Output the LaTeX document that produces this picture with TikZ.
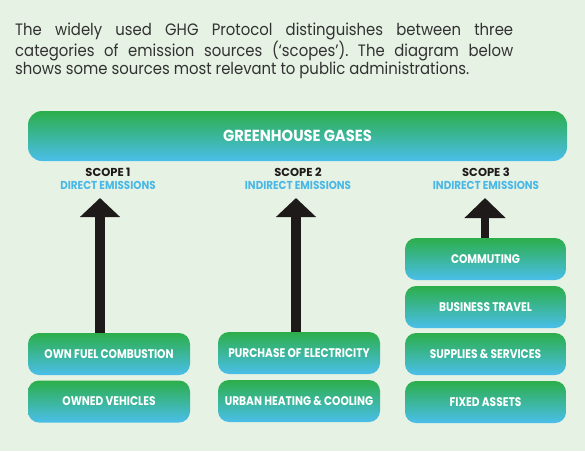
\documentclass[tikz,border=0pt]{standalone}
\usepackage{fontspec}
\setmainfont{Poppins}
\newfontfamily\labelfont[FakeStretch=0.85]{Poppins}
\newfontfamily\kindfont[FakeStretch=0.9]{Poppins}
\newfontfamily\ghgfont[FakeStretch=0.92]{Poppins}
\newfontfamily\introfont[FakeStretch=0.9]{Poppins}
\usetikzlibrary{arrows.meta}
\frenchspacing
\definecolor{bg}{RGB}{230,242,228}
\definecolor{gtop}{RGB}{44,174,74}
\definecolor{gbot}{RGB}{74,190,234}
\definecolor{lblue}{RGB}{74,184,230}
\definecolor{dark}{RGB}{30,26,26}
\definecolor{textgrey}{RGB}{50,50,50}
\tikzset{
  grad/.style={rounded corners=11pt, top color=gtop, bottom color=gbot, draw=none,
    text=white, inner sep=0pt, align=center},
  srcbox/.style={grad, minimum width=162pt, minimum height=42pt,
    font=\labelfont\fontsize{12.5}{14}\selectfont\bfseries},
  scopename/.style={font=\fontsize{11.5}{12}\selectfont\bfseries, text=dark, inner sep=0pt},
  scopekind/.style={font=\kindfont\fontsize{11.5}{12}\selectfont\bfseries, text=lblue, inner sep=0pt},
  bigarrow/.style={draw=dark, line width=10pt, -{Triangle[width=39pt,length=19pt]}},
  smallarrow/.style={draw=dark, line width=8pt, -{Triangle[width=40pt,length=20pt]}},
}
\begin{document}
\begin{tikzpicture}[x=1pt,y=-1pt]
\fill[bg] (0,0) rectangle (585,451);
\useasboundingbox (0,0) rectangle (585,451);
\node[anchor=north west, inner sep=0pt, text width=498pt, align=justify,
  font=\introfont\fontsize{16.5}{18}\selectfont, text=textgrey] (intro) at (15,23)
  {\frenchspacing The widely used GHG Protocol distinguishes between three\linebreak categories of emission sources (‘scopes’). The diagram below\linebreak shows some sources most relevant to public administrations.};
\node[grad, minimum width=539pt, minimum height=50pt, rounded corners=14pt,
  font=\ghgfont\fontsize{16}{18}\selectfont\bfseries] (ghg) at (297.5,136) {GREENHOUSE GASES};

\node[scopename] (s1) at (108,172) {SCOPE 1};
\node[scopekind] (k1) at (108,185) {DIRECT EMISSIONS};
\node[scopename] (s2) at (298,172) {SCOPE 2};
\node[scopekind] (k2) at (298,185) {INDIRECT EMISSIONS};
\node[scopename] (s3) at (486,172) {SCOPE 3};
\node[scopekind] (k3) at (486,185) {INDIRECT EMISSIONS};

\node[srcbox] (ofc) at (109,354) {OWN FUEL COMBUSTION};
\node[srcbox] (ov) at (109,401.5) {OWNED VEHICLES};
\node[srcbox] (poe) at (299,353) {PURCHASE OF ELECTRICITY};
\node[srcbox] (uhc) at (299,401) {URBAN HEATING \& COOLING};
\node[srcbox, minimum width=161pt] (com) at (485.5,259) {COMMUTING};
\node[srcbox, minimum width=161pt] (bt) at (485.5,307) {BUSINESS TRAVEL};
\node[srcbox, minimum width=161pt] (ss) at (485.5,354) {SUPPLIES \& SERVICES};
\node[srcbox, minimum width=161pt] (fa) at (485.5,402) {FIXED ASSETS};

\coordinate (t1) at (100,198);
\coordinate (t2) at (296,198);
\coordinate (t3) at (485,198);
\draw[bigarrow] (ofc.north -| t1) -- (t1);
\draw[bigarrow] (poe.north -| t2) -- (t2);
\draw[smallarrow] (com.north -| t3) -- (t3);
\end{tikzpicture}
\end{document}
